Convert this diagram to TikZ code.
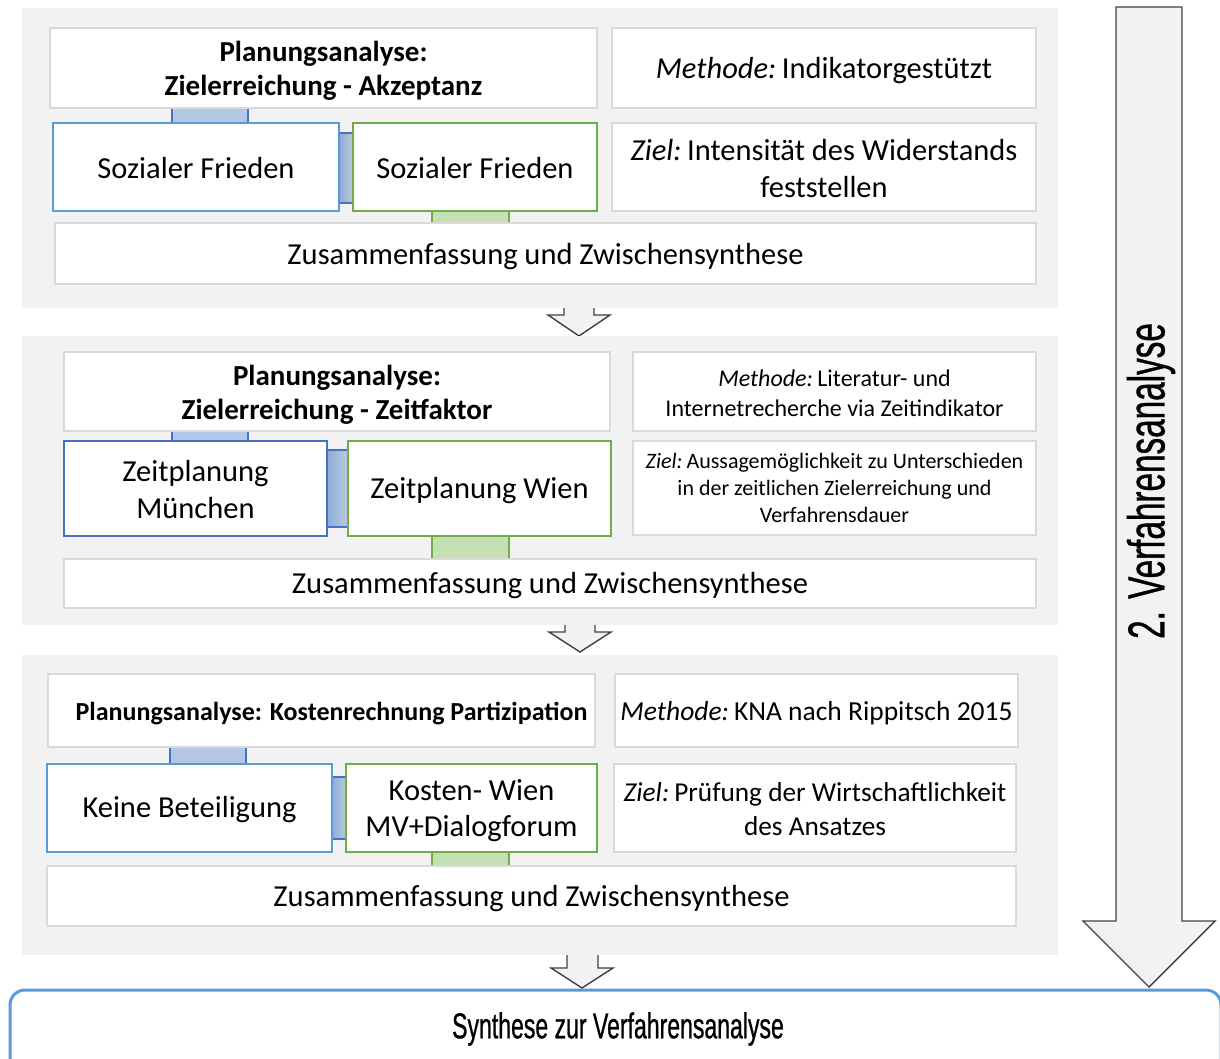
\documentclass[tikz,border=0pt]{standalone}
\usepackage{fontspec}
\setmainfont{Carlito}
\newfontfamily\condfont[FakeStretch=0.64, FakeBold=0.7]{Liberation Sans}
\newcommand\fsz[2]{\fontsize{#1}{#2}\selectfont}
\newcommand\lead[1]{{\itshape #1}\kern-0.12em\relax}

\definecolor{panelgray}{HTML}{F2F2F2}
\definecolor{boxgray}{HTML}{D9D9D9}
\definecolor{blueA}{HTML}{5B9BD5}
\definecolor{blueB}{HTML}{4472C4}
\definecolor{greenA}{HTML}{70AD47}
\definecolor{barblue}{HTML}{B4C7E7}
\definecolor{barmid}{HTML}{8FAADC}
\definecolor{bargreen}{HTML}{C5E0B4}
\definecolor{arrowline}{HTML}{404040}

\tikzset{
  panel/.style={fill=panelgray, draw=none},
  cell/.style={fill=white, inner sep=0pt, align=center, font=\fsz{30.5}{37}},
  graycell/.style={cell, draw=boxgray, line width=2.6pt},
  bluecell/.style={cell, draw=blueA, line width=2.4pt},
  darkbluecell/.style={cell, draw=blueB, line width=2.4pt},
  greencell/.style={cell, draw=greenA, line width=2.4pt},
  titlecell/.style={graycell, font=\bfseries\fsz{29}{34}},
  celltext/.style={draw=none, fill=none},
  blockarrow/.style={fill=panelgray, draw=arrowline, line width=1.4pt, line join=miter},
  edge/.style={draw=#1, line width=2pt},
}

% box with corners (x1,y1) and (x2,y2); optional first argument shifts the text vertically
\newcommand\cellbox[8][-2]{%
  \node[#2, minimum width={(#6-#4)*1pt}, minimum height={(#7-#5)*1pt}] (#3) at ({(#4+#6)/2},{(#5+#7)/2}) {};
  \node[#2, celltext, yshift=#1pt] (#3-text) at (#3.center) {#8};}
% vertical link bar between two stacked boxes
\newcommand\vlink[6]{%
  \fill[#5] (#1,#3) rectangle (#2,#4);
  \draw[edge=#6] (#1,#3) -- (#1,#4) (#2,#3) -- (#2,#4);}
% horizontal link bar between two boxes side by side
\newcommand\hlink[4]{%
  \shade[left color=barmid, right color=barmid!80!greenA!60] (#1,#3) rectangle (#2,#4);
  \draw[edge=blueB] (#1-4,#3) -- (#2+4,#3) (#1-4,#4) -- (#2+4,#4);}

\begin{document}
\begin{tikzpicture}[x=1pt, y=-1pt]
\useasboundingbox (0,0) rectangle (1220,1059);
\clip (0,0) rectangle (1220,1059);

% arrows between the stages (partly hidden behind the panels)
\draw[blockarrow] (564,295) -- (564,315) -- (548,315) -- (579,336) -- (610,315) -- (594,315) -- (594,295) -- cycle;
\draw[blockarrow] (565,615) -- (565,632) -- (549,632) -- (580,652) -- (611,632) -- (595,632) -- (595,615) -- cycle;
\draw[blockarrow] (567,945) -- (567,968) -- (551,968) -- (582,988) -- (613,968) -- (598,968) -- (598,945) -- cycle;

% stage panels
\node[panel, inner sep=0pt, minimum width=1036pt, minimum height=300pt] (p1) at (540,158) {};
\node[panel, inner sep=0pt, minimum width=1036pt, minimum height=289pt] (p2) at (540,480.5) {};
\node[panel, inner sep=0pt, minimum width=1036pt, minimum height=300pt] (p3) at (540,805) {};

% ---- stage 1: acceptance ----
\vlink{172}{248}{105}{126}{barblue}{blueB}
\hlink{339}{353}{133}{203}
\vlink{432}{509}{208}{226}{bargreen}{greenA}
\cellbox[-3]{titlecell}{t1}{50}{28}{597}{108}{Planungsanalyse:\\Zielerreichung - Akzeptanz}
\cellbox[-3]{graycell}{m1}{612}{28}{1036}{108}{\lead{Methode:} Indikatorgestützt}
\cellbox[-1]{bluecell}{b1}{53}{123}{339}{211}{Sozialer Frieden}
\cellbox[-1]{greencell}{g1}{353}{123}{597}{211}{Sozialer Frieden}
\cellbox[-1.5]{graycell}{z1}{612}{123}{1036}{211}{\lead{Ziel:} Intensität des Widerstands\\feststellen}
\cellbox[-3]{graycell}{s1}{55}{223}{1036}{284}{Zusammenfassung und Zwischensynthese}

% ---- stage 2: time factor ----
\vlink{172}{248}{428}{444}{barblue}{blueB}
\hlink{327}{348}{450}{527}
\vlink{432}{509}{533}{562}{bargreen}{greenA}
\cellbox[-3.5]{titlecell}{t2}{64}{352}{610}{431}{Planungsanalyse:\\Zielerreichung - Zeitfaktor}
\cellbox{graycell, font=\fsz{24}{30}}{m2}{633}{352}{1036}{431}{\lead{Methode:} Literatur- und\\Internetrecherche via Zeitindikator}
\cellbox[-1]{darkbluecell}{b2}{64}{441}{327}{536}{Zeitplanung\\München}
\cellbox{greencell}{g2}{348}{441}{611}{536}{Zeitplanung Wien}
\cellbox[0]{graycell, font=\fsz{22}{27}}{z2}{633}{441}{1036}{535}{\lead{Ziel:} Aussagemöglichkeit zu Unterschieden\\in der zeitlichen Zielerreichung und\\Verfahrensdauer}
\cellbox[-2.5]{graycell}{s2}{64}{559}{1036}{608}{Zusammenfassung und Zwischensynthese}

% ---- stage 3: participation costs ----
\vlink{170}{246}{744}{767}{barblue}{blueB}
\hlink{332}{346}{777}{839}
\vlink{432}{509}{849}{869}{bargreen}{greenA}
\cellbox[-3]{titlecell, font=\bfseries\fsz{26}{32}}{t3}{48}{674}{595}{747}{\hspace*{20pt}Planungsanalyse: Kostenrechnung Partizipation}
\cellbox[-3]{graycell, font=\fsz{27.5}{34}}{m3}{615}{674}{1018}{747}{\lead{Methode:} KNA nach Rippitsch 2015}
\cellbox[-2]{bluecell}{b3}{47}{764}{332}{852}{Keine Beteiligung}
\cellbox[-3]{greencell, font=\fsz{30.5}{36}}{g3}{346}{764}{597}{852}{Kosten- Wien\\MV+Dialogforum}
\cellbox[-1]{graycell, font=\fsz{27.3}{34}}{z3}{614}{764}{1016}{852}{\lead{Ziel:} Prüfung der Wirtschaftlichkeit\\des Ansatzes}
\cellbox[-3]{graycell}{s3}{47}{866}{1016}{926}{Zusammenfassung und Zwischensynthese}

% overall process arrow
\draw[blockarrow] (1116,7) -- (1182,7) -- (1182,921) -- (1215,921) -- (1149,987) -- (1083,921) -- (1116,921) -- cycle;
\node[rotate=90, font=\condfont\fsz{52}{60}] (va) at (1151,481) {2. Verfahrensanalyse};

% final synthesis
\node[draw=blueA, line width=3pt, rounded corners=15pt, fill=white, inner sep=0pt,
      minimum width=1211pt, minimum height=85pt] (syn) at (615.5,1032.5) {};
\node[font=\condfont\fsz{36}{40}] (syntxt) at (618,1029) {Synthese zur Verfahrensanalyse};
\end{tikzpicture}
\end{document}
